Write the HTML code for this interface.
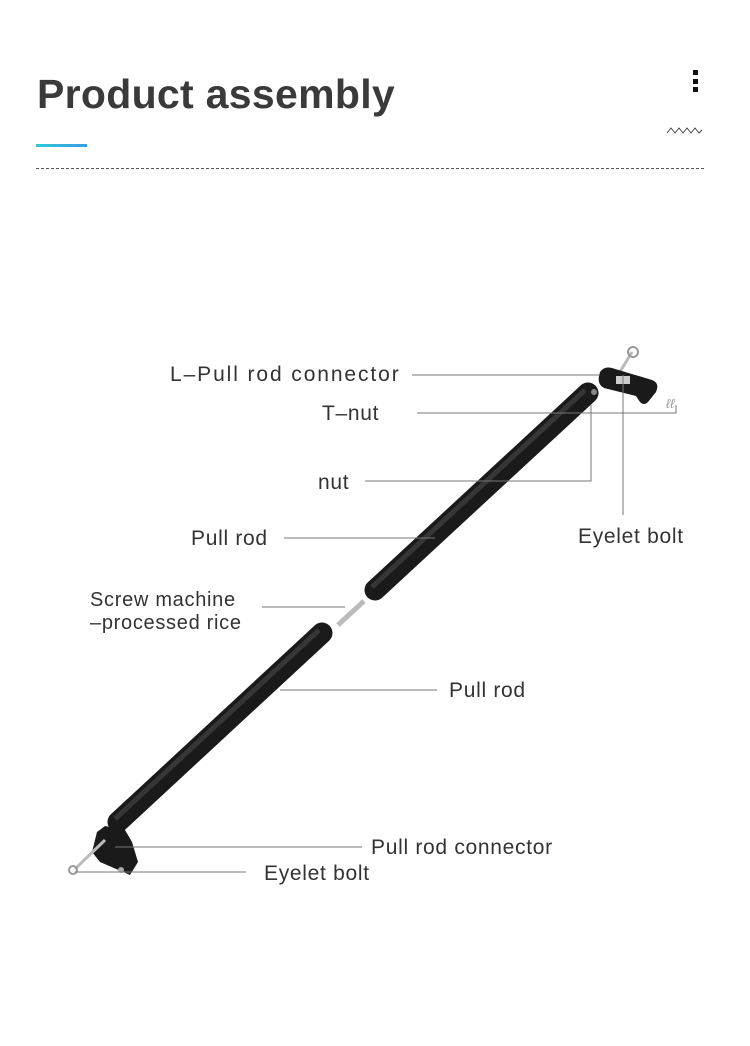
<!DOCTYPE html>
<html><head><meta charset="utf-8"><style>
html,body{margin:0;padding:0;background:#fff;}
body{width:750px;height:1046px;position:relative;overflow:hidden;font-family:"Liberation Sans",sans-serif;}
.t{position:absolute;color:#333;font-size:21px;letter-spacing:0.7px;white-space:nowrap;}
</style></head><body>
<div style="position:absolute;left:37px;top:71px;font-size:41px;font-weight:bold;color:#3a3a3a;letter-spacing:0.3px">Product assembly</div>
<div style="position:absolute;left:36px;top:144px;width:51px;height:3px;background:linear-gradient(90deg,#2ec8d8,#3a9be0)"></div>
<div style="position:absolute;left:36px;top:168px;width:668px;border-top:1px dashed #555"></div>
<div style="position:absolute;left:693px;top:70px;width:5px;height:5px;background:#111"></div>
<div style="position:absolute;left:693px;top:79px;width:5px;height:5px;background:#111"></div>
<div style="position:absolute;left:693px;top:87px;width:5px;height:5px;background:#111"></div>
<svg style="position:absolute;left:0;top:0" width="750" height="1046">
<polyline points="667,133 671,128 675,133 679,128 683,133 687,128 691,133 695,128 699,133 702,130" fill="none" stroke="#444" stroke-width="1"/>
<line x1="588" y1="393" x2="375" y2="590" stroke="#1a1a1a" stroke-width="21" stroke-linecap="round"/>
<line x1="585" y1="390" x2="372" y2="587" stroke="#4a4a4a" stroke-width="5" opacity="0.6"/>
<line x1="322" y1="633" x2="118" y2="822" stroke="#1a1a1a" stroke-width="21" stroke-linecap="round"/>
<line x1="319" y1="630" x2="115" y2="819" stroke="#4a4a4a" stroke-width="5" opacity="0.6"/>
<line x1="338" y1="625" x2="364" y2="601" stroke="#bbb" stroke-width="5"/>
<line x1="615" y1="380" x2="632" y2="352" stroke="#bbb" stroke-width="3"/>
<circle cx="633" cy="352" r="5" fill="none" stroke="#999" stroke-width="2"/>
<path d="M600,372 Q604,366 612,368 L652,380 Q660,383 656,392 L648,402 Q644,406 640,402 L636,396 L604,388 Q596,384 600,372Z" fill="#1a1a1a"/>
<rect x="616" y="376" width="14" height="8" fill="#ccc"/>
<circle cx="594" cy="392" r="3" fill="#888"/>
<text x="666" y="408" font-size="13" fill="#999" font-style="italic">ℓℓ</text>
<path d="M97,832 L105,826 L125,830 L132,842 L138,862 L130,875 L100,862 L92,852Z" fill="#1a1a1a"/>
<line x1="75" y1="869" x2="105" y2="840" stroke="#bbb" stroke-width="3"/>
<circle cx="73" cy="870" r="4" fill="none" stroke="#999" stroke-width="2"/>
<circle cx="121" cy="870" r="3" fill="#aaa"/>
<g stroke="#777" stroke-width="1" fill="none">
<line x1="412" y1="375" x2="600" y2="375"/>
<polyline points="417,413 676,413 676,405"/>
<polyline points="365,481 591,481 591,405"/>
<line x1="623" y1="375" x2="623" y2="515"/>
<line x1="284" y1="538" x2="435" y2="538"/>
<line x1="262" y1="607" x2="345" y2="607"/>
<line x1="280" y1="690" x2="437" y2="690"/>
<line x1="115" y1="847" x2="362" y2="847"/>
<line x1="75" y1="872" x2="246" y2="872"/>
</g>
</svg>
<div class="t" style="left:170px;top:363px;letter-spacing:1.9px">L–Pull rod connector</div>
<div class="t" style="left:322px;top:402px">T–nut</div>
<div class="t" style="left:318px;top:471px">nut</div>
<div class="t" style="left:578px;top:525px">Eyelet bolt</div>
<div class="t" style="left:191px;top:527px">Pull rod</div>
<div class="t" style="left:90px;top:589px;line-height:23px;font-size:20px">Screw machine<br>–processed rice</div>
<div class="t" style="left:449px;top:679px">Pull rod</div>
<div class="t" style="left:371px;top:836px">Pull rod connector</div>
<div class="t" style="left:264px;top:862px">Eyelet bolt</div>
</body></html>
